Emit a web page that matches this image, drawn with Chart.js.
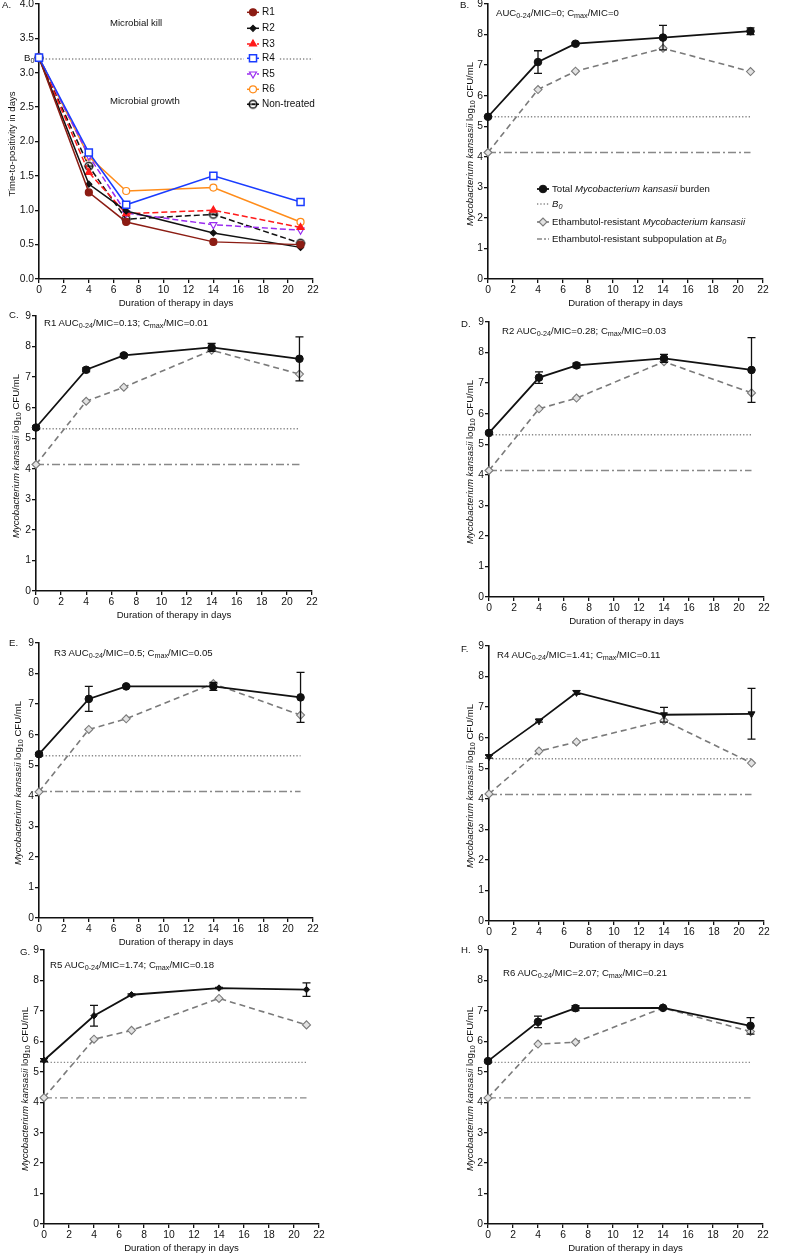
<!DOCTYPE html>
<html>
<head>
<meta charset="utf-8">
<script src="https://cdn.jsdelivr.net/npm/chart.js@4/dist/chart.umd.min.js"></script>
<style>
body { margin: 0; background: #fff; width: 794px; height: 1254px; position: relative; overflow: hidden;
       font-family: "Liberation Sans", Arial, sans-serif; color: #111; }
canvas { position: absolute; }
.t { position: absolute; font-size: 9.6px; white-space: nowrap; transform: translateY(-50%); line-height: 1; }
.c { position: absolute; font-size: 9.6px; white-space: nowrap; transform: translate(-50%, -50%); line-height: 1; }
.yt { position: absolute; font-size: 9.6px; white-space: nowrap; transform: translate(-50%, -50%) rotate(-90deg); line-height: 1; }
sub { font-size: 0.75em; vertical-align: -0.3em; line-height: 0; }
</style>
</head>
<body>
<script>
/* data */
const days = [0, 4, 7, 14, 21];
const xTicks = [0, 2, 4, 6, 8, 10, 12, 14, 16, 18, 20, 22];
const ttpTicks = [0, 0.5, 1, 1.5, 2, 2.5, 3, 3.5, 4];
const cfuTicks = [0, 1, 2, 3, 4, 5, 6, 7, 8, 9];

// A. time-to-positivity in days
const ttpB0 = 3.2;
const ttpR1 = [3.22, 1.26, 0.83, 0.54, 0.50];
const ttpR2 = [3.22, 1.38, 0.99, 0.67, 0.46];
const ttpR3 = [3.22, 1.55, 0.95, 1.00, 0.75];
const ttpR4 = [3.22, 1.84, 1.08, 1.50, 1.12];
const ttpR5 = [3.22, 1.79, 0.96, 0.79, 0.71];
const ttpR6 = [3.22, 1.78, 1.28, 1.33, 0.83];
const ttpNT = [3.22, 1.64, 0.87, 0.94, 0.52];

// B-H. log10 CFU/mL (total burden +/- sd, ethambutol-resistant)
const cfuB0 = 5.31;
const resB0 = 4.14;
const totB = [5.31, 7.10, 7.70, 7.90, 8.11];
const sdB  = [0.03, 0.37, 0.04, 0.40, 0.11];
const resB = [4.14, 6.20, 6.80, 7.55, 6.79];
const totC = [5.35, 7.24, 7.71, 7.97, 7.60];
const sdC  = [0.05, 0.06, 0.05, 0.13, 0.72];
const resC = [4.14, 6.21, 6.67, 7.88, 7.10];
const totD = [5.37, 7.18, 7.58, 7.81, 7.43];
const sdD  = [0.05, 0.19, 0.07, 0.13, 1.06];
const resD = [4.14, 6.16, 6.51, 7.70, 6.68];
const totE = [5.36, 7.17, 7.58, 7.58, 7.22];
const sdE  = [0.05, 0.41, 0.03, 0.13, 0.82];
const resE = [4.13, 6.17, 6.52, 7.67, 6.64];
const totF = [5.38, 6.55, 7.48, 6.75, 6.78];
const sdF  = [0.05, 0.04, 0.06, 0.24, 0.83];
const resF = [4.16, 5.56, 5.86, 6.56, 5.17];
const totG = [5.38, 6.84, 7.53, 7.75, 7.70];
const sdG  = [0.05, 0.34, 0.03, 0.02, 0.22];
const resG = [4.15, 6.07, 6.36, 7.41, 6.54];
const totH = [5.35, 6.64, 7.09, 7.10, 6.51];
const sdH  = [0.05, 0.19, 0.08, 0.03, 0.27];
const resH = [4.14, 5.91, 5.97, 7.10, 6.32];

const FONT = '"Liberation Sans", Arial, sans-serif';
const INK = '#111';
const GREY = '#7a7a7a';

function pts(vals) {
    return days.map((d, i) => ({ x: d, y: vals[i] }));
}
function flat(v, xEnd) {
    return [{ x: days[0], y: v }, { x: xEnd, y: v }];
}

/* text helpers */
function text(html, x, y, cls) {
    const d = document.createElement('div');
    d.className = cls || 't';
    d.style.left = x + 'px';
    d.style.top = y + 'px';
    d.innerHTML = html;
    document.body.appendChild(d);
    return d;
}

/* open circle with a bar (non-treated marker) */
function barCircle() {
    const c = document.createElement('canvas');
    c.width = 12; c.height = 12;
    const g = c.getContext('2d');
    g.strokeStyle = INK; g.lineWidth = 1.4;
    g.beginPath(); g.arc(6, 6, 3.8, 0, Math.PI * 2); g.stroke();
    g.beginPath(); g.moveTo(1.5, 6); g.lineTo(10.5, 6); g.stroke();
    return c;
}
const ntMark = barCircle();

/* error bars */
const errorBars = {
    id: 'errorBars',
    afterDatasetsDraw(chart) {
        const ctx = chart.ctx, xs = chart.scales.x, ys = chart.scales.y;
        chart.data.datasets.forEach(ds => {
            if (!ds.errors) return;
            ctx.save();
            ctx.strokeStyle = INK;
            ctx.lineWidth = 1.3;
            ds.data.forEach((p, i) => {
                const e = ds.errors[i];
                if (!e) return;
                const x = xs.getPixelForValue(p.x);
                const y1 = ys.getPixelForValue(p.y + e), y2 = ys.getPixelForValue(p.y - e);
                ctx.beginPath();
                ctx.moveTo(x, y1); ctx.lineTo(x, y2);
                ctx.moveTo(x - 4, y1); ctx.lineTo(x + 4, y1);
                ctx.moveTo(x - 4, y2); ctx.lineTo(x + 4, y2);
                ctx.stroke();
            });
            ctx.restore();
        });
    }
};

/* legend symbols, page coordinates */
function legendMarks(items, ox, oy) {
    return {
        id: 'legendMarks',
        afterDraw(chart) {
            const ctx = chart.ctx;
            items.forEach(it => {
                const x = it.x - ox, y = it.y - oy;
                ctx.save();
                if (it.mask) {
                    ctx.fillStyle = '#fff';
                    ctx.fillRect(x - it.mask[0], y - 6, it.mask[0] + it.mask[1], 12);
                }
                if (it.line) {
                    ctx.strokeStyle = it.line.color;
                    ctx.lineWidth = it.line.width;
                    ctx.setLineDash(it.line.dash || []);
                    ctx.beginPath(); ctx.moveTo(x - 6, y); ctx.lineTo(x + 6, y); ctx.stroke();
                    ctx.setLineDash([]);
                }
                if (it.point) {
                    ctx.fillStyle = it.point.fill;
                    ctx.strokeStyle = it.point.stroke;
                    ctx.lineWidth = it.point.bw;
                    Chart.helpers.drawPoint(ctx, {
                        pointStyle: it.point.style, radius: it.point.r,
                        rotation: it.point.rot || 0, borderWidth: it.point.bw
                    }, x, y);
                }
                ctx.restore();
            });
        }
    };
}

function axis(which, min, max, tickList, dec) {
    return {
        type: 'linear', min: min, max: max,
        afterBuildTicks: s => { s.ticks = tickList.map(v => ({ value: v })); },
        afterFit: s => { if (which === 'x') s.height = 25; else s.width = 40; },
        ticks: {
            color: INK, padding: 1, autoSkip: false, maxRotation: 0,
            font: { family: FONT, size: 10.3 },
            callback: v => dec ? v.toFixed(dec) : String(v)
        },
        grid: { drawOnChartArea: false, drawTicks: true, tickLength: 4, color: INK, lineWidth: 1.3 },
        border: { display: true, color: INK, width: 1.6 }
    };
}

function panel(p) {
    const ox = p.L - 40, oy = p.T - 10;
    const w = p.R - p.L + 50, h = p.B - p.T + 35;
    const cv = document.createElement('canvas');
    cv.width = w; cv.height = h;
    cv.style.left = ox + 'px'; cv.style.top = oy + 'px';
    cv.style.width = w + 'px'; cv.style.height = h + 'px';
    document.body.appendChild(cv);
    new Chart(cv, {
        type: 'line',
        data: { datasets: p.datasets },
        options: {
            responsive: false, animation: false, devicePixelRatio: 1,
            layout: { padding: { top: 10, right: 10, left: 0, bottom: 0 } },
            plugins: { legend: { display: false }, tooltip: { enabled: false } },
            elements: { line: { tension: 0 } },
            scales: {
                x: axis('x', 0, 22, xTicks, 0),
                y: p.ttp ? axis('y', 0, 4, ttpTicks, 1) : axis('y', 0, 9, cfuTicks, 0)
            }
        },
        plugins: [errorBars, legendMarks(p.legend || [], ox, oy)]
    });
    // axis titles
    text('Duration of therapy in days', (p.L + p.R) / 2, p.B + 24, 'c');
    text(p.ytitle || '<i>Mycobacterium kansasii</i> log<sub>10</sub> CFU/mL', p.yx, (p.T + p.B) / 2 + 2, 'yt');
}

function ttpSet(vals, color, style, opts) {
    return Object.assign({
        data: pts(vals), borderColor: color, borderWidth: 1.5, clip: false,
        pointStyle: style, pointRadius: 3.5, pointBackgroundColor: color,
        pointBorderColor: color, pointBorderWidth: 1.2
    }, opts || {});
}

function cfuSets(tot, sd, res, mark) {
    return [
        Object.assign({
            data: pts(tot), errors: sd, borderColor: INK, borderWidth: 1.8, clip: false,
            pointStyle: 'circle', pointRadius: 3.8, pointBackgroundColor: INK,
            pointBorderColor: INK, pointBorderWidth: 1
        }, mark || {}),
        {
            data: pts(res), borderColor: GREY, borderWidth: 1.6, borderDash: [6, 4], clip: false,
            pointStyle: 'rectRot', pointRadius: 4, pointBackgroundColor: '#e2e2e2',
            pointBorderColor: GREY, pointBorderWidth: 1.1
        },
        {
            data: flat(cfuB0, 21), borderColor: '#888', borderWidth: 1.3, borderDash: [1.3, 2],
            pointRadius: 0, clip: false
        },
        {
            data: flat(resB0, 21), borderColor: '#888', borderWidth: 1.3, borderDash: [8, 3, 2, 3],
            pointRadius: 0, clip: false
        }
    ];
}

/* A */
panel({
    L: 39, T: 4, R: 313, B: 279, ttp: true, yx: 12,
    ytitle: 'Time-to-positivity in days',
    datasets: [
        ttpSet(ttpR4, '#1a3cff', 'rect', { pointRadius: 5, pointBackgroundColor: '#fff', pointBorderWidth: 1.5 }),
        ttpSet(ttpR1, '#8c1c13', 'circle'),
        ttpSet(ttpR2, INK, 'rectRot', { pointRadius: 3 }),
        ttpSet(ttpR3, '#ff1a1a', 'triangle', { borderDash: [6, 3], pointRadius: 4 }),
        ttpSet(ttpR5, '#9a2cf0', 'triangle', { borderDash: [6, 3], pointRadius: 4, pointRotation: 180, pointBackgroundColor: '#fff' }),
        ttpSet(ttpR6, '#ff8c1a', 'circle', { pointBackgroundColor: '#fff' }),
        ttpSet(ttpNT, INK, ntMark, { borderDash: [6, 3] }),
        { data: flat(ttpB0, 22), borderColor: '#888', borderWidth: 1.3, borderDash: [1.3, 2], pointRadius: 0, clip: false }
    ],
    legend: [
        { x: 253, y: 12.3, line: { color: '#8c1c13', width: 1.5 }, point: { style: 'circle', r: 3.5, fill: '#8c1c13', stroke: '#8c1c13', bw: 1.2 } },
        { x: 253, y: 28.3, line: { color: INK, width: 1.5 }, point: { style: 'rectRot', r: 3, fill: INK, stroke: INK, bw: 1.2 } },
        { x: 253, y: 44, line: { color: '#ff1a1a', width: 1.5, dash: [3, 2] }, point: { style: 'triangle', r: 4, fill: '#ff1a1a', stroke: '#ff1a1a', bw: 1.2 } },
        { x: 253, y: 58.3, mask: [9, 26], line: { color: '#1a3cff', width: 1.5 }, point: { style: 'rect', r: 5, fill: '#fff', stroke: '#1a3cff', bw: 1.5 } },
        { x: 253, y: 74, line: { color: '#9a2cf0', width: 1.5, dash: [3, 2] }, point: { style: 'triangle', r: 4, rot: 180, fill: '#fff', stroke: '#9a2cf0', bw: 1.2 } },
        { x: 253, y: 89.3, line: { color: '#ff8c1a', width: 1.5 }, point: { style: 'circle', r: 3.5, fill: '#fff', stroke: '#ff8c1a', bw: 1.2 } },
        { x: 253, y: 104.3, line: { color: INK, width: 1.5, dash: [3, 2] }, point: { style: ntMark, r: 4, fill: INK, stroke: INK, bw: 1 } }
    ]
});
text('A.', 2, 5);
text('Microbial kill', 110, 23);
text('Microbial growth', 110, 101);
text('B<sub>0</sub>', 24, 58);
['R1', 'R2', 'R3', 'R4', 'R5', 'R6', 'Non-treated'].forEach((s, i) => {
    text(s, 262, [12.3, 28.3, 44, 58.3, 74, 89.3, 104.3][i]).style.fontSize = '10px';
});

/* B */
panel({
    L: 488, T: 4, R: 763, B: 279, yx: 470,
    datasets: cfuSets(totB, sdB, resB),
    legend: [
        { x: 543, y: 189, line: { color: INK, width: 1.8 }, point: { style: 'circle', r: 3.8, fill: INK, stroke: INK, bw: 1 } },
        { x: 543, y: 204, line: { color: '#888', width: 1.3, dash: [1.3, 2] } },
        { x: 543, y: 222, line: { color: GREY, width: 1.6 }, point: { style: 'rectRot', r: 4, fill: '#e2e2e2', stroke: GREY, bw: 1.1 } },
        { x: 543, y: 239, line: { color: '#888', width: 1.3, dash: [5, 2, 2, 2] } }
    ]
});
text('B.', 460, 5);
text('AUC<sub>0-24</sub>/MIC=0; C<sub>max</sub>/MIC=0', 496, 13);
text('Total <i>Mycobacterium kansasii</i> burden', 552, 189);
text('<i>B<sub>0</sub></i>', 552, 204);
text('Ethambutol-resistant <i>Mycobacterium kansasii</i>', 552, 222);
text('Ethambutol-resistant subpopulation at <i>B<sub>0</sub></i>', 552, 239);

/* C */
panel({ L: 36, T: 316, R: 312, B: 591, yx: 16, datasets: cfuSets(totC, sdC, resC) });
text('C.', 9, 315);
text('R1 AUC<sub>0-24</sub>/MIC=0.13; C<sub>max</sub>/MIC=0.01', 44, 323);

/* D */
panel({ L: 489, T: 322, R: 764, B: 597, yx: 470, datasets: cfuSets(totD, sdD, resD) });
text('D.', 461, 324);
text('R2 AUC<sub>0-24</sub>/MIC=0.28; C<sub>max</sub>/MIC=0.03', 502, 331);

/* E */
panel({ L: 39, T: 643, R: 313, B: 918, yx: 18, datasets: cfuSets(totE, sdE, resE) });
text('E.', 9, 643);
text('R3 AUC<sub>0-24</sub>/MIC=0.5; C<sub>max</sub>/MIC=0.05', 54, 653);

/* F */
panel({
    L: 489, T: 646, R: 764, B: 921, yx: 470,
    datasets: cfuSets(totF, sdF, resF, { pointStyle: 'triangle', pointRotation: 180, pointRadius: 4 })
});
text('F.', 461, 649);
text('R4 AUC<sub>0-24</sub>/MIC=1.41; C<sub>max</sub>/MIC=0.11', 497, 655);

/* G */
panel({
    L: 44, T: 950, R: 319, B: 1224, yx: 25,
    datasets: cfuSets(totG, sdG, resG, { pointStyle: 'rectRot', pointRadius: 3.2 })
});
text('G.', 20, 952);
text('R5 AUC<sub>0-24</sub>/MIC=1.74; C<sub>max</sub>/MIC=0.18', 50, 965);

/* H */
panel({ L: 488, T: 950, R: 763, B: 1224, yx: 470, datasets: cfuSets(totH, sdH, resH) });
text('H.', 461, 950);
text('R6 AUC<sub>0-24</sub>/MIC=2.07; C<sub>max</sub>/MIC=0.21', 503, 973);
</script>
</body>
</html>
